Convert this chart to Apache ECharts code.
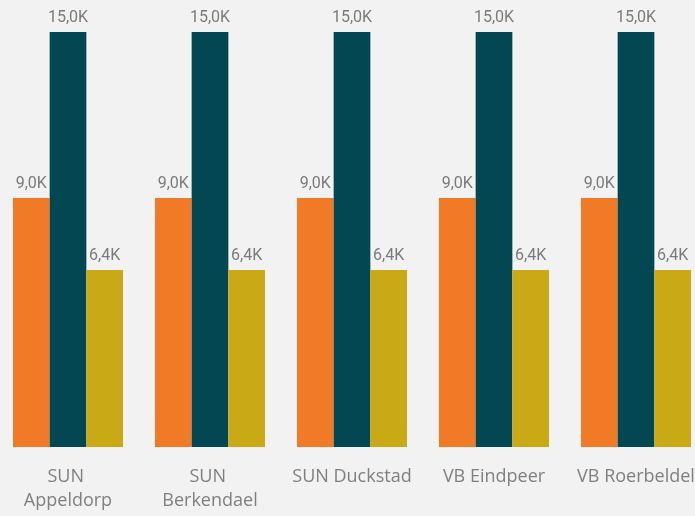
<!DOCTYPE html>
<html>
<head>
<meta charset="utf-8">
<script src="https://cdn.jsdelivr.net/npm/echarts@6/dist/echarts.min.js"></script>
<style>
  html, body { margin: 0; padding: 0; background: #f2f2f2; }
  #chart { width: 695px; height: 516px; }
</style>
</head>
<body>
<div id="chart"></div>
<script>
// locaties
const categories = ['SUN Appeldorp', 'SUN Berkendael', 'SUN Duckstad', 'VB Eindpeer', 'VB Roerbeldel'];
// drie reeksen
const serieA = [9000, 9000, 9000, 9000, 9000];
const serieB = [15000, 15000, 15000, 15000, 15000];
const serieC = [6400, 6400, 6400, 6400, 6400];
const colors = ['#f07a26', '#024752', '#c9aa16'];

function fmt(v) {
  return (v / 1000).toFixed(1).replace('.', ',') + 'K';
}

const chart = echarts.init(document.getElementById('chart'));

const labelStyle = {
  show: true,
  position: 'top',
  distance: 6,
  color: '#7a7a7a',
  fontFamily: 'Roboto',
  fontSize: 16,
  formatter: p => fmt(p.value),
};

chart.setOption({
  backgroundColor: '#f2f2f2',
  animation: false,
  grid: { left: -3, width: 710, top: 32, bottom: 69, containLabel: false, outerBoundsMode: 'none' },
  xAxis: {
    type: 'category',
    data: categories,
    axisLine: { show: false },
    axisTick: { show: false },
    axisLabel: {
      color: '#7f7f7f',
      fontFamily: 'Open Sans',
      fontSize: 18,
      lineHeight: 24,
      margin: 18,
      width: 122,
      overflow: 'break',
      interval: 0,
    },
  },
  yAxis: {
    type: 'value',
    min: 0,
    max: 15000,
    show: false,
    splitLine: { show: false },
  },
  series: [
    { type: 'bar', data: serieA, itemStyle: { color: colors[0] }, barGap: '0%', barCategoryGap: '22.5%', label: labelStyle },
    { type: 'bar', data: serieB, itemStyle: { color: colors[1] }, barGap: '0%', barCategoryGap: '22.5%', label: labelStyle },
    { type: 'bar', data: serieC, itemStyle: { color: colors[2] }, barGap: '0%', barCategoryGap: '22.5%', label: labelStyle },
  ],
});
</script>
</body>
</html>
